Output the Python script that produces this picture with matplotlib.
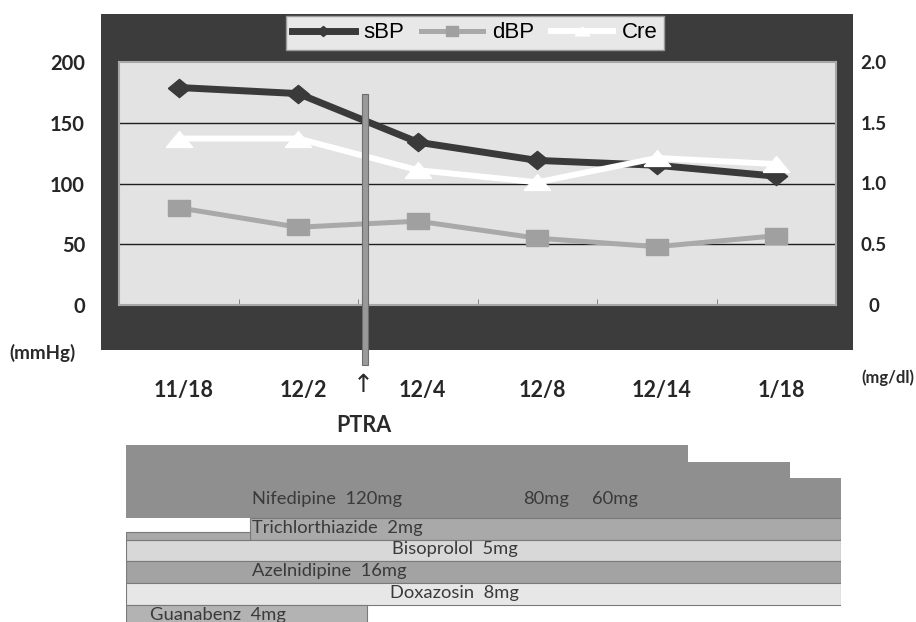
import matplotlib
matplotlib.use('Agg')
import matplotlib.pyplot as plt
import matplotlib.transforms as mtransforms
from matplotlib.patches import Rectangle

# ---------------- data ----------------
dates = ['11/18', '12/2', '12/4', '12/8', '12/14', '1/18']
sbp = [179, 174, 134, 119, 115, 106]
dbp = [80, 64, 69, 55, 48, 57]
cre = [1.37, 1.37, 1.11, 1.01, 1.21, 1.16]
left_ticks = [0, 50, 100, 150, 200]
right_ticks = [0, 0.5, 1.0, 1.5, 2.0]
right_tick_labels = ['0', '0.5', '1.0', '1.5', '2.0']
ptra_pos = 1.56

nif_doses = ['120mg', '80mg', '60mg']
nif_starts = [-0.5, 4.22, 5.07]
nif_ends = [4.22, 5.07, 5.5]

drugs = ['Trichlorthiazide', 'Bisoprolol', 'Azelnidipine', 'Doxazosin', 'Guanabenz']
drug_doses = ['2mg', '5mg', '16mg', '8mg', '4mg']
drug_starts = [0.54, -0.5, -0.5, -0.5, -0.5]
drug_ends = [5.5, 5.5, 5.5, 5.5, 1.52]

# ---------------- layout / style ----------------
W, H = 916, 622
def fx(p): return p / W
def fy(p): return 1 - p / H

FONT = ['Lato', 'DejaVu Sans']
plt.rcParams['font.family'] = FONT

fig = plt.figure(figsize=(W / 100, H / 100), dpi=100)
fig.patch.set_facecolor('white')

# dark outer panel
fig.add_artist(Rectangle((fx(101), fy(350)), (853 - 101) / W, (350 - 14) / H,
                         transform=fig.transFigure, facecolor='#3c3c3c',
                         edgecolor='none', zorder=-1))

ax = fig.add_axes([fx(119), fy(305), (836 - 119) / W, (305 - 62) / H])
ax.set_facecolor('#e3e3e3')
ax.set_xlim(-0.5, 5.5)
ax.set_ylim(0, 200)
for s in ax.spines.values():
    s.set_color('#a8a8a8')
    s.set_linewidth(1.5)

x = list(range(len(dates)))

# custom marker shapes (wide)
diamond = [(-1, 0), (0, 0.82), (1, 0), (0, -0.82), (-1, 0)]
square = [(-1, -0.74), (1, -0.74), (1, 0.74), (-1, 0.74), (-1, -0.74)]
tri = [(-1, -0.6), (1, -0.6), (0, 0.6), (-1, -0.6)]

l_dbp, = ax.plot(x, dbp, color='#a9a9a9', lw=3.6, marker=square, ms=16.5,
                 mfc='#a0a0a0', mec='#a0a0a0', zorder=3, label='dBP')
l_sbp, = ax.plot(x, sbp, color='#3a3a3a', lw=5, marker=diamond, ms=16,
                 mfc='#3a3a3a', mec='#3a3a3a', zorder=4, label='sBP')

ax.set_yticks(left_ticks)
ax.set_yticklabels([str(v) for v in left_ticks])
ax.grid(axis='y', color='#1e1e1e', lw=1)
gl = ax.get_ygridlines()
gl[0].set_visible(False)
gl[-1].set_visible(False)
ax.set_axisbelow(True)
ax.tick_params(axis='y', length=0, pad=24.5, labelsize=14.5, labelcolor='#262626')
for lab in ax.get_yticklabels():
    lab.set_fontweight('bold')

ax.set_xticks(x)
ax.set_xticklabels(dates)
ax.tick_params(axis='x', which='major', length=0, pad=54, labelsize=15.5,
               labelcolor='#262626')
off = mtransforms.ScaledTranslation(5 / 100, 0, fig.dpi_scale_trans)
for lab in ax.get_xticklabels():
    lab.set_fontweight('bold')
    lab.set_transform(lab.get_transform() + off)
ax.set_xticks([i + 0.5 for i in x[:-1]], minor=True)
ax.tick_params(axis='x', which='minor', direction='in', length=4, color='#777777',
               labelbottom=False)

ax2 = ax.twinx()
ax2.set_ylim(0, 2.0)
l_cre, = ax2.plot(x, cre, color='white', lw=4.3, marker=tri, ms=19,
                  mfc='white', mec='white', zorder=4, label='Cre')
ax2.set_yticks(right_ticks)
ax2.set_yticklabels(right_tick_labels)
ax2.tick_params(axis='y', length=0, pad=27, labelsize=13.5, labelcolor='#262626')
for lab in ax2.get_yticklabels():
    lab.set_fontweight('bold')
    lab.set_ha('center')
for s in ax2.spines.values():
    s.set_visible(False)

# PTRA marker bar
trans = mtransforms.blended_transform_factory(ax.transData, ax.transAxes)
bw = 6 / 119.5
ax2.add_patch(Rectangle((ptra_pos - bw / 2, (305.5 - 365) / 243), bw,
                        (365 - 94) / 243, transform=trans, facecolor='#9a9a9a',
                        edgecolor='#6e6e6e', lw=0.8, clip_on=False, zorder=10))

leg = ax2.legend(handles=[l_sbp, l_dbp, l_cre], loc='center',
                 bbox_to_anchor=(fx(475), fy(33)), bbox_transform=fig.transFigure,
                 ncol=3, prop={'family': 'Liberation Sans', 'size': 16},
                 frameon=True, fancybox=False, framealpha=1,
                 facecolor='#e8e8e8', edgecolor='#9a9a9a', markerscale=0.55,
                 handlelength=2.8, handletextpad=0.4, columnspacing=0.75,
                 borderpad=0.3)

fig.text(fx(43), fy(353), '(mmHg)', ha='center', va='center', fontsize=13.5,
         fontweight='bold', color='#2a2a2a')
fig.text(fx(888), fy(378), '(mg/dl)', ha='center', va='center', fontsize=12,
         fontweight='bold', color='#2a2a2a')
fig.text(fx(363), fy(385), '↑', ha='center', va='center', fontsize=18,
         family='DejaVu Sans', color='#2a2a2a')
fig.text(fx(364), fy(425), 'PTRA', ha='center', va='center', fontsize=15.5,
         fontweight='bold', color='#2a2a2a')

# ---------------- medication bars ----------------
ROW = 21.7
axb = fig.add_axes([fx(126), 0, 715 / W, (622 - 445) / H])
axb.set_xlim(-0.5, 5.5)
axb.set_ylim((622 - 445) / ROW, 0)
axb.axis('off')

nif_bottom = 73 / ROW
nif_heights = [73 / ROW, 56 / ROW, 40 / ROW]
for s0, s1, h in zip(nif_starts, nif_ends, nif_heights):
    axb.bar(x=s0, height=h, width=s1 - s0, bottom=nif_bottom - h, align='edge',
            color='#8f8f8f', edgecolor='none', zorder=2)

row_colors = ['#a9a9a9', '#d8d8d8', '#a3a3a3', '#e7e7e7', '#b3b3b3']
txt = dict(va='center', ha='left', fontsize=13.2, color='#3a3a3a', zorder=5)
for i, (d, s0, s1, col) in enumerate(zip(drugs, drug_starts, drug_ends, row_colors)):
    axb.bar(x=s0, height=1, width=s1 - s0, bottom=nif_bottom + i, align='edge',
            color=col, edgecolor='#7a7a7a', lw=0.8, zorder=2)
# thin strip before Trichlorthiazide start
axb.bar(x=-0.5, height=0.35, width=drug_starts[0] + 0.5, bottom=nif_bottom + 0.65,
        align='edge', color='#a9a9a9', edgecolor='#7a7a7a', lw=0.8, zorder=2)

axb.text(0.557, 54 / ROW, 'Nifedipine  ' + nif_doses[0], **txt)
axb.text(2.83, 54 / ROW, nif_doses[1], **txt)
axb.text(3.41, 54 / ROW, nif_doses[2], **txt)
label_x = [0.557, 1.73, 0.557, 1.715, -0.30]
for i, (d, dose, lx) in enumerate(zip(drugs, drug_doses, label_x)):
    axb.text(lx, nif_bottom + i + 0.45, d + '  ' + dose, **txt)

fig.savefig('out.png', dpi=100)
